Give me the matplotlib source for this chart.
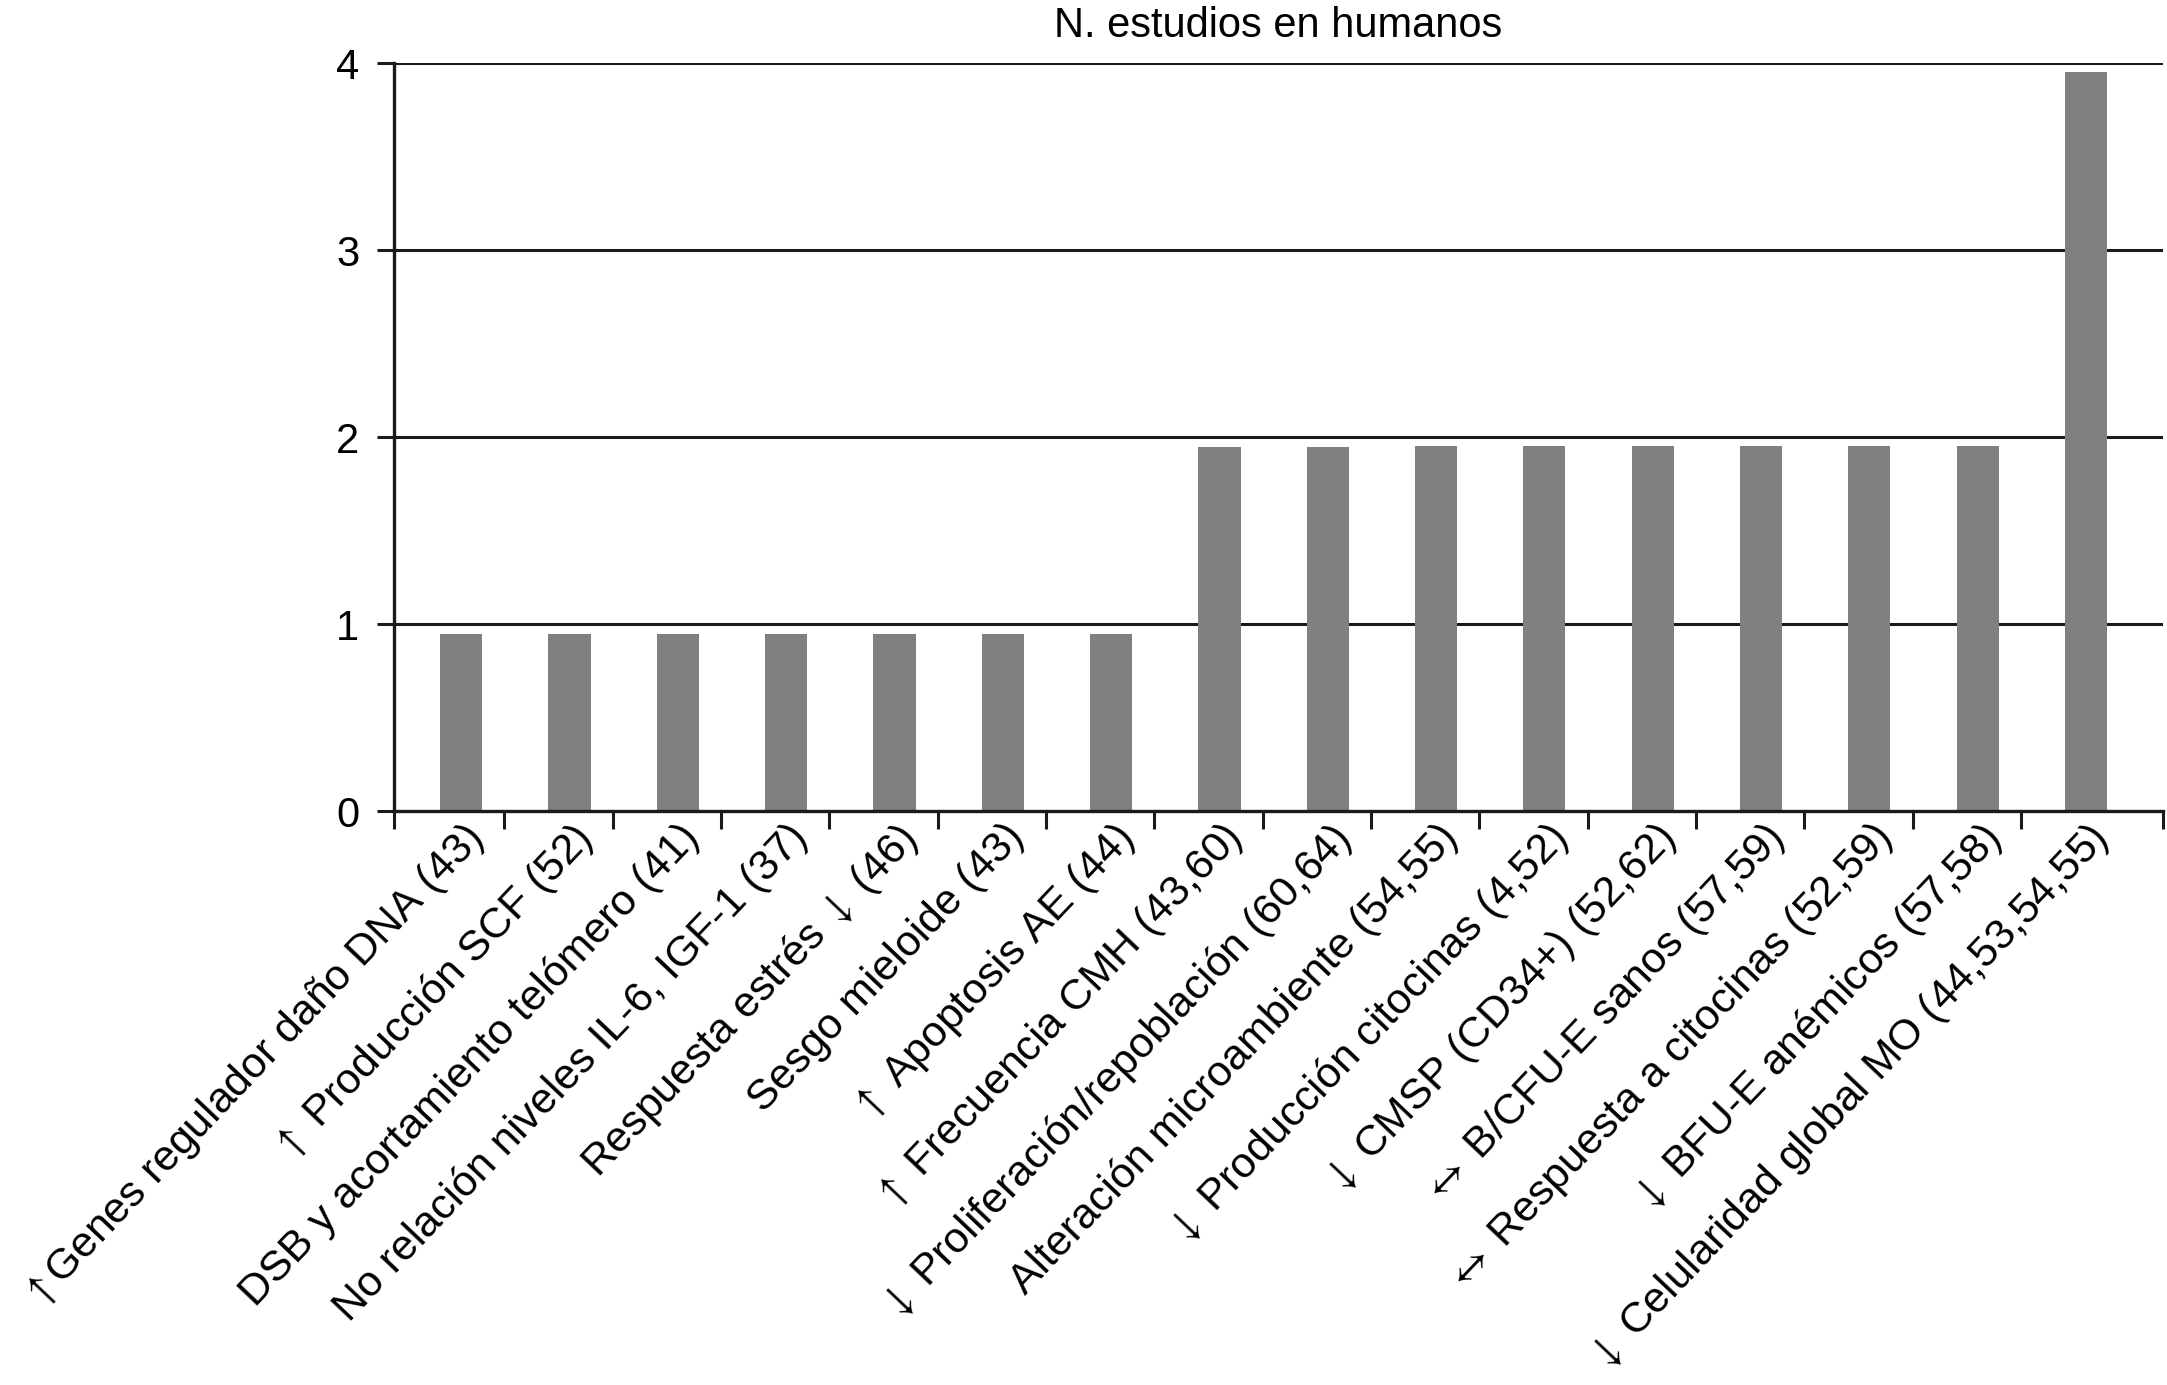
import matplotlib
matplotlib.use("Agg")
import matplotlib.pyplot as plt
import numpy as np

plt.rcParams["font.family"] = ["Liberation Sans", "DejaVu Sans"]
plt.rcParams["mathtext.fontset"] = "stix"

CATEGORIES = [
    r"$\uparrow$Genes regulador daño DNA (43)",
    r"$\uparrow$ Producción SCF (52)",
    "DSB y acortamiento telómero (41)",
    "No relación niveles IL-6, IGF-1 (37)",
    r"Respuesta estrés $\downarrow$ (46)",
    "Sesgo mieloide (43)",
    r"$\uparrow$ Apoptosis AE (44)",
    r"$\uparrow$ Frecuencia CMH (43,60)",
    r"$\downarrow$ Proliferación/repoblación (60,64)",
    "Alteración microambiente (54,55)",
    r"$\downarrow$ Producción citocinas (4,52)",
    r"$\downarrow$ CMSP (CD34+) (52,62)",
    r"$\leftrightarrow$ B/CFU-E sanos (57,59)",
    r"$\leftrightarrow$ Respuesta a citocinas (52,59)",
    r"$\downarrow$ BFU-E anémicos (57,58)",
    r"$\downarrow$ Celularidad global MO (44,53,54,55)",
]
N_STUDIES = [0.945, 0.945, 0.945, 0.945, 0.945, 0.945, 0.945,
             1.945, 1.945, 1.953, 1.953, 1.953, 1.953, 1.953, 1.953, 3.95]
Y_TICKS = [0, 1, 2, 3, 4]
TITLE = "N. estudios en humanos"

fig = plt.figure(figsize=(21.67, 13.85), dpi=100)
ax = fig.add_axes([0.1818, 0.4144, 0.8163, 0.5401])

x = np.arange(len(CATEGORIES))
ax.bar(x, N_STUDIES, width=0.39, color="#808080", zorder=2)

ax.set_xlim(-0.62, 15.71)
ax.set_ylim(0, 4)

# horizontal gridlines behind the bars
for yv in Y_TICKS[1:]:
    ax.axhline(yv, color="#1a1a1a", lw=2.2, zorder=1)

for s in ["top", "right"]:
    ax.spines[s].set_visible(False)
for s in ["left", "bottom"]:
    ax.spines[s].set_linewidth(2.4)
    ax.spines[s].set_color("#1a1a1a")
    ax.spines[s].set_zorder(3)

ax.set_yticks(Y_TICKS)
ax.tick_params(axis="y", length=12, width=2.2, color="#1a1a1a",
               labelsize=30, pad=13)

# tick marks at category boundaries, labels on minor ticks at bar centres
bounds = [-0.62] + [k + 0.4 for k in range(15)] + [15.71]
ax.set_xticks(bounds)
ax.set_xticklabels([])
ax.tick_params(axis="x", which="major", length=13, width=2.2, color="#1a1a1a")
ax.set_xticks(x, minor=True)
ax.set_xticklabels(CATEGORIES, minor=True, rotation=46.5, ha="right",
                   rotation_mode="anchor", fontsize=30.8)
ax.tick_params(axis="x", which="minor", length=0, pad=4)

ax.set_title(TITLE, fontsize=30, pad=19)

fig.savefig("out.png", dpi=100)
